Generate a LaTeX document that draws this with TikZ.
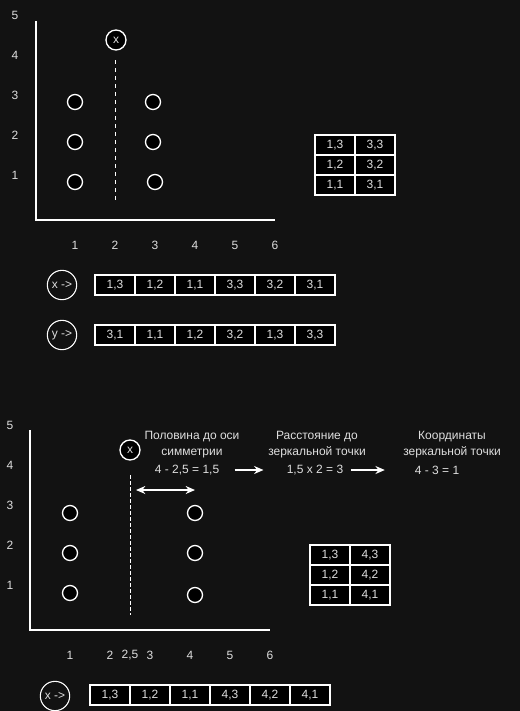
\documentclass[tikz,border=0pt]{standalone}
\usepackage{fontspec}
\setmainfont{Liberation Sans}
\usetikzlibrary{positioning,arrows.meta}
\definecolor{bg}{RGB}{18,18,18}
\definecolor{txt}{RGB}{222,222,222}

\begin{document}
\begin{tikzpicture}[x=0.75pt,y=-0.75pt, font=\fontsize{9}{12}\selectfont, >={Stealth[length=7pt,width=6pt]}]
  \tikzset{
    every node/.style={text=txt},
    pt/.style={circle,draw=white,fill=black,line width=1pt,minimum size=11.25pt,inner sep=0pt},
    mk/.style={circle,draw=white,fill=black,line width=1pt,minimum size=15pt,inner sep=0pt},
    lbl/.style={circle,draw=white,fill=bg,thick,minimum size=22pt,inner sep=0pt},
    cell/.style={draw=white,fill=black,line width=1pt,minimum width=30pt,minimum height=15pt,inner sep=0pt},
    arr/.style={white,line width=1pt,->},
  }

  \fill[bg] (0,0) rectangle (520,711);
  \useasboundingbox (0,0) rectangle (520,711);

  %top chart
  \draw[white,line width=1pt] (36,21) -- (36,220) -- (275,220);
  \foreach \v/\y in {5/15,4/55,3/95,2/135,1/175}{
    \node (ya\v) at (15,\y) {\v};
  }
  \foreach \v in {1,...,6}{
    \node (xa\v) at (35+40*\v,245) {\v};
  }
  \foreach \name/\px/\py in {p1/75/102,p2/75/142,p3/75/182,p4/153/102,p5/153/142,p6/155/182}{
    \node[pt] (\name) at (\px,\py) {};
  }
  \node[mk] (xt) at (116,40) {x};
  \draw[white,dashed] (115,60) -- (115,200);

  %table
  \foreach \r/\a/\b in {0/{1,3}/{3,3},1/{1,2}/{3,2},2/{1,1}/{3,1}}{
    \node[cell] (ta\r) at (335,145+20*\r) {\a};
    \node[cell] (tb\r) at (375,145+20*\r) {\b};
  }

  %sorted rows
  \node[lbl] (sx) at (62,285) {x ->};
  \foreach \i/\num in {0/{1,3},1/{1,2},2/{1,1},3/{3,3},4/{3,2},5/{3,1}}{
    \node[cell] (sx\i) at (115+40*\i,285) {\num};
  }
  \node[lbl] (sy) at (62,335) {y ->};
  \foreach \i/\num in {0/{3,1},1/{1,1},2/{1,2},3/{3,2},4/{1,3},5/{3,3}}{
    \node[cell] (sy\i) at (115+40*\i,335) {\num};
  }

  %bottom chart
  \draw[white,line width=1pt] (30,430) -- (30,630) -- (270,630);
  \foreach \v/\y in {5/425,4/465,3/505,2/545,1/585}{
    \node (yb\v) at (10,\y) {\v};
  }
  \foreach \v in {1,...,6}{
    \node (xb\v) at (30+40*\v,655) {\v};
  }
  \node (xb25) at (130,655) {2,5};
  \foreach \name/\px/\py in {q1/70/513,q2/70/553,q3/70/593,q4/195/513,q5/195/553,q6/195/595}{
    \node[pt] (\name) at (\px,\py) {};
  }
  \node[mk] (xm) at (130,450) {x};
  \draw[white,dash pattern=on 3pt off 1.5pt] (130,475) -- (130,615);
  \coordinate (dl) at (136,490);
  \draw[white,line width=1pt,<->] (dl) -- (q4.center |- dl);

  %steps
  \node[align=center] (h1) at (192,445) {Половина до оси\\симметрии};
  \node (f1) at (187,470) {4 - 2,5 = 1,5};
  \node[align=center] (h2) at (317,445) {Расстояние до\\зеркальной точки};
  \node (f2) at (315,470) {1,5 x 2 = 3};
  \node[align=center] (h3) at (452,445) {Координаты\\зеркальной точки};
  \node (f3) at (437,470) {4 - 3 = 1};
  \draw[arr,shorten <=8pt,shorten >=14pt] (f1) -- (f2);
  \draw[arr,shorten <=2pt,shorten >=19pt] (f2) -- (f3);

  %table
  \foreach \r/\a/\b in {0/{1,3}/{4,3},1/{1,2}/{4,2},2/{1,1}/{4,1}}{
    \node[cell] (ua\r) at (330,555+20*\r) {\a};
    \node[cell] (ub\r) at (370,555+20*\r) {\b};
  }

  %sorted row
  \node[lbl] (rx) at (55,696) {x ->};
  \foreach \i/\num in {0/{1,3},1/{1,2},2/{1,1},3/{4,3},4/{4,2},5/{4,1}}{
    \node[cell] (rx\i) at (110+40*\i,695) {\num};
  }

\end{tikzpicture}
\end{document}
